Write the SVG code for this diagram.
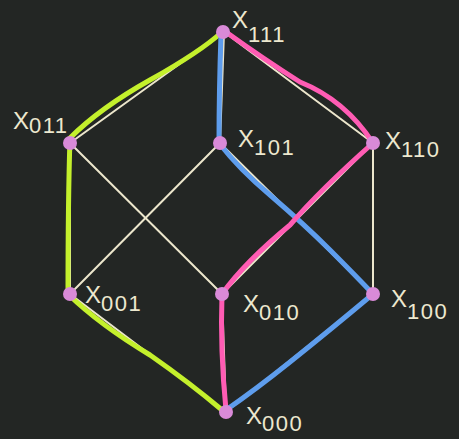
<svg xmlns="http://www.w3.org/2000/svg" width="459" height="439" viewBox="0 0 459 439">
<style>
.edge{stroke:#ece6cc;stroke-width:2;fill:none;stroke-linecap:round}
.path{fill:none;stroke-width:5;stroke-linecap:round;stroke-linejoin:round}
.g{stroke:#c4f02c}
.b{stroke:#5e9ded}
.p{stroke:#ff5cb4}
.node{fill:#d98ad8}
.lbl{font-family:"Liberation Sans",Arial,sans-serif;font-size:24px;fill:#ede8cf}
.sub{font-size:22px;letter-spacing:1.5px}
</style>
<rect width="459" height="439" fill="#232624"/>
<g id="connectors">
<line class="edge" x1="224" y1="32" x2="70" y2="143"/>
<line class="edge" x1="224" y1="32" x2="220" y2="143"/>
<line class="edge" x1="224" y1="32" x2="373" y2="143"/>
<line class="edge" x1="70" y1="143" x2="70" y2="294"/>
<line class="edge" x1="70" y1="143" x2="222" y2="294"/>
<line class="edge" x1="220" y1="143" x2="70" y2="294"/>
<line class="edge" x1="220" y1="143" x2="373" y2="294"/>
<line class="edge" x1="373" y1="143" x2="222" y2="294"/>
<line class="edge" x1="373" y1="143" x2="373" y2="294"/>
<line class="edge" x1="70" y1="294" x2="226" y2="412"/>
<line class="edge" x1="222" y1="294" x2="226" y2="412"/>
<line class="edge" x1="373" y1="294" x2="226" y2="412"/>
<path class="path g" d="M222 32 Q200 52 150 80 Q100 108 70 138 Q68 200 68 294 Q100 325 150 355 Q190 383 222 410"/>
<path class="path b" d="M221 34 Q219 90 219 143 Q240 170 270 195 Q305 225 330 250 Q355 275 373 294 Q330 330 290 362 Q255 390 226 410"/>
<path class="path p" d="M226 32 Q265 60 300 82 Q345 100 373 143 Q320 190 290 225 Q245 262 222 294 Q220 350 226 410"/>
</g>
<g id="x111"><circle class="node" cx="223" cy="32" r="7"/><text class="lbl" x="232" y="28">X<tspan class="sub" dy="14">111</tspan></text></g>
<g id="x011"><circle class="node" cx="70" cy="143" r="7"/><text class="lbl" x="13" y="129">X<tspan class="sub" dy="4">011</tspan></text></g>
<g id="x101"><circle class="node" cx="220" cy="143" r="7"/><text class="lbl" x="238" y="147">X<tspan class="sub" dy="8">101</tspan></text></g>
<g id="x110"><circle class="node" cx="373" cy="143" r="7"/><text class="lbl" x="385" y="149">X<tspan class="sub" dy="8">110</tspan></text></g>
<g id="x001"><circle class="node" cx="70" cy="294" r="7"/><text class="lbl" x="85" y="303">X<tspan class="sub" dy="8">001</tspan></text></g>
<g id="x010"><circle class="node" cx="222" cy="294" r="7"/><text class="lbl" x="243" y="312">X<tspan class="sub" dy="8">010</tspan></text></g>
<g id="x100"><circle class="node" cx="373" cy="294" r="7"/><text class="lbl" x="391" y="307">X<tspan class="sub" dy="12">100</tspan></text></g>
<g id="x000"><circle class="node" cx="226" cy="412" r="7"/><text class="lbl" x="246" y="424">X<tspan class="sub" dy="7">000</tspan></text></g>
</svg>
